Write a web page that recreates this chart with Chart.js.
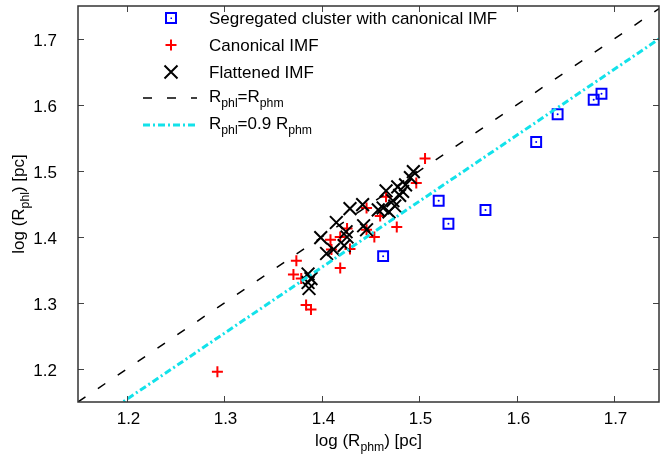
<!DOCTYPE html>
<html>
<head>
<meta charset="utf-8">
<script src="https://cdn.jsdelivr.net/npm/chart.js@4"></script>
<style>
  body { margin: 0; background: #fff; }
  #grafico { display: block; }
</style>
</head>
<body>
<canvas id="grafico" width="660" height="462"></canvas>
<script>
// valores (log R_phm no eixo x, log R_phl no eixo y)
const segX = [1.687, 1.679, 1.642, 1.620, 1.520, 1.530, 1.568, 1.463];
const segY = [1.617, 1.608, 1.586, 1.544, 1.455, 1.420, 1.441, 1.371];

const canonX = [1.293, 1.374, 1.371, 1.379, 1.384, 1.389, 1.409, 1.410, 1.419, 1.419,
                1.426, 1.429, 1.446, 1.446, 1.454, 1.460, 1.466, 1.477, 1.497, 1.506];
const canonY = [1.196, 1.364, 1.343, 1.337, 1.297, 1.290, 1.396, 1.381, 1.353, 1.400,
                1.413, 1.382, 1.444, 1.411, 1.400, 1.432, 1.461, 1.415, 1.482, 1.519];

const flatX = [1.386, 1.386, 1.387, 1.389, 1.399, 1.405, 1.412, 1.415, 1.423, 1.425,
               1.426, 1.429, 1.442, 1.443, 1.446, 1.458, 1.463, 1.466, 1.469, 1.473,
               1.475, 1.478, 1.480, 1.483, 1.486, 1.491, 1.494];
const flatY = [1.344, 1.331, 1.322, 1.337, 1.399, 1.375, 1.381, 1.422, 1.387, 1.408,
               1.400, 1.443, 1.449, 1.417, 1.411, 1.441, 1.444, 1.470, 1.438, 1.455,
               1.447, 1.476, 1.463, 1.469, 1.479, 1.490, 1.499];

// retas de referência (extremos)
const retaX = [1.15, 1.75];
const retaIgualY = [1.15, 1.75];
const retaFatorY = [1.104, 1.704];

const ticksX = [1.2, 1.3, 1.4, 1.5, 1.6, 1.7];
const ticksY = [1.2, 1.3, 1.4, 1.5, 1.6, 1.7];

const pares = (xs, ys) => xs.map((x, i) => ({ x: x, y: ys[i] }));

const fonte = '"Liberation Sans", Arial, sans-serif';
const ciano = '#12e2ea';

// escreve texto com subscritos: partes = [[texto, sub?], ...]
function textoRico(ctx, partes, x, y, tam, alinhar) {
    const tamSub = tam * 0.72;
    let largura = 0;
    partes.forEach(p => {
        ctx.font = (p[1] ? tamSub : tam) + 'px ' + fonte;
        largura += ctx.measureText(p[0]).width;
    });
    let cx = alinhar === 'center' ? x - largura / 2 : x;
    ctx.textAlign = 'left';
    ctx.textBaseline = 'alphabetic';
    partes.forEach(p => {
        ctx.font = (p[1] ? tamSub : tam) + 'px ' + fonte;
        ctx.fillText(p[0], cx, p[1] ? y + tam * 0.3 : y);
        cx += ctx.measureText(p[0]).width;
    });
}

const molduraPlugin = {
    id: 'moldura',
    afterDraw(chart) {
        const ctx = chart.ctx;
        const a = chart.chartArea;
        const sx = chart.scales.x, sy = chart.scales.y;
        ctx.save();
        ctx.strokeStyle = '#444';
        ctx.lineWidth = 1;
        ctx.fillStyle = '#000';
        ctx.font = '17px ' + fonte;
        ticksX.forEach(v => {
            const px = Math.round(sx.getPixelForValue(v)) + 0.5;
            ctx.beginPath();
            ctx.moveTo(px, a.bottom); ctx.lineTo(px, a.bottom - 6);
            ctx.moveTo(px, a.top); ctx.lineTo(px, a.top + 6);
            ctx.stroke();
            ctx.textAlign = 'center';
            ctx.textBaseline = 'alphabetic';
            ctx.fillText(v.toFixed(1), px + 1, a.bottom + 22);
        });
        ticksY.forEach(v => {
            const py = Math.round(sy.getPixelForValue(v)) + 0.5;
            ctx.beginPath();
            ctx.moveTo(a.left, py); ctx.lineTo(a.left + 6, py);
            ctx.moveTo(a.right, py); ctx.lineTo(a.right - 6, py);
            ctx.stroke();
            ctx.textAlign = 'right';
            ctx.textBaseline = 'alphabetic';
            ctx.fillText(v.toFixed(1), a.left - 21, py + 6);
        });
        ctx.strokeStyle = '#333';
        ctx.lineWidth = 1.5;
        ctx.strokeRect(a.left, a.top, a.right - a.left, a.bottom - a.top);

        // títulos dos eixos
        ctx.fillStyle = '#000';
        textoRico(ctx, [['log (R'], ['phm', true], [') [pc]']], (a.left + a.right) / 2, 446, 17, 'center');
        ctx.translate(24, (a.top + a.bottom) / 2);
        ctx.rotate(-Math.PI / 2);
        textoRico(ctx, [['log (R'], ['phl', true], [') [pc]']], 0, 0, 17, 'center');
        ctx.restore();

        // legenda
        ctx.save();
        const xt = 209, xm = 171;
        const linhas = [18, 45, 72, 98, 125];
        // quadrado azul
        ctx.strokeStyle = '#0000ff'; ctx.lineWidth = 2;
        ctx.strokeRect(xm - 5, linhas[0] - 5, 10, 10);
        ctx.fillStyle = '#0000ff';
        ctx.fillRect(xm - 0.5, linhas[0] - 0.5, 1.5, 1.5);
        // cruz vermelha
        ctx.strokeStyle = '#ff0000';
        ctx.beginPath();
        ctx.moveTo(xm - 5.5, linhas[1]); ctx.lineTo(xm + 5.5, linhas[1]);
        ctx.moveTo(xm, linhas[1] - 5.5); ctx.lineTo(xm, linhas[1] + 5.5);
        ctx.stroke();
        // x preto
        ctx.strokeStyle = '#000';
        ctx.beginPath();
        ctx.moveTo(xm - 6.5, linhas[2] - 6.5); ctx.lineTo(xm + 6.5, linhas[2] + 6.5);
        ctx.moveTo(xm - 6.5, linhas[2] + 6.5); ctx.lineTo(xm + 6.5, linhas[2] - 6.5);
        ctx.stroke();
        // linhas
        ctx.lineWidth = 1.5;
        ctx.setLineDash([9, 15]);
        ctx.beginPath(); ctx.moveTo(143, linhas[3]); ctx.lineTo(197, linhas[3]); ctx.stroke();
        ctx.strokeStyle = ciano; ctx.lineWidth = 3;
        ctx.setLineDash([7, 3, 2, 3]);
        ctx.beginPath(); ctx.moveTo(143, linhas[4]); ctx.lineTo(197, linhas[4]); ctx.stroke();
        ctx.setLineDash([]);

        ctx.fillStyle = '#000';
        const b = 6;
        textoRico(ctx, [['Segregated cluster with canonical IMF']], xt, linhas[0] + b, 17);
        textoRico(ctx, [['Canonical IMF']], xt, linhas[1] + b, 17);
        textoRico(ctx, [['Flattened IMF']], xt, linhas[2] + b, 17);
        textoRico(ctx, [['R'], ['phl', true], ['=R'], ['phm', true]], xt, linhas[3] + b - 2, 17);
        textoRico(ctx, [['R'], ['phl', true], ['=0.9 R'], ['phm', true]], xt, linhas[4] + b - 2, 17);
        ctx.restore();
    }
};

const grafico = new Chart(document.getElementById('grafico'), {
    type: 'scatter',
    data: {
        datasets: [
            {
                label: 'R_phl=0.9 R_phm', type: 'line', order: 0,
                data: pares(retaX, retaFatorY),
                borderColor: ciano, borderWidth: 3, borderDash: [7, 3, 2, 3],
                pointRadius: 0, fill: false
            },
            {
                label: 'R_phl=R_phm', type: 'line', order: 1,
                data: pares(retaX, retaIgualY),
                borderColor: '#000', borderWidth: 1.5, borderDash: [9, 15],
                pointRadius: 0, fill: false
            },
            {
                label: 'Flattened IMF', order: 2,
                data: pares(flatX, flatY),
                pointStyle: 'crossRot', pointRadius: 9, borderColor: '#000', borderWidth: 2
            },
            {
                label: 'Canonical IMF', order: 3,
                data: pares(canonX, canonY),
                pointStyle: 'cross', pointRadius: 5.5, borderColor: '#ff0000', borderWidth: 2
            },
            {
                label: 'centro', order: 4,
                data: pares(segX, segY),
                pointStyle: 'circle', pointRadius: 1, backgroundColor: '#0000ff', borderWidth: 0
            },
            {
                label: 'Segregated cluster with canonical IMF', order: 5,
                data: pares(segX, segY),
                pointStyle: 'rect', pointRadius: 7, borderColor: '#0000ff', borderWidth: 2,
                backgroundColor: 'rgba(0,0,0,0)'
            }
        ]
    },
    options: {
        responsive: false,
        animation: false,
        layout: { autoPadding: false, padding: { left: 78, top: 6, right: 1, bottom: 60 } },
        plugins: { legend: { display: false }, tooltip: { enabled: false } },
        scales: {
            x: { type: 'linear', min: 1.15, max: 1.746, display: false },
            y: { type: 'linear', min: 1.15, max: 1.75, display: false }
        }
    },
    plugins: [molduraPlugin]
});
</script>
</body>
</html>
